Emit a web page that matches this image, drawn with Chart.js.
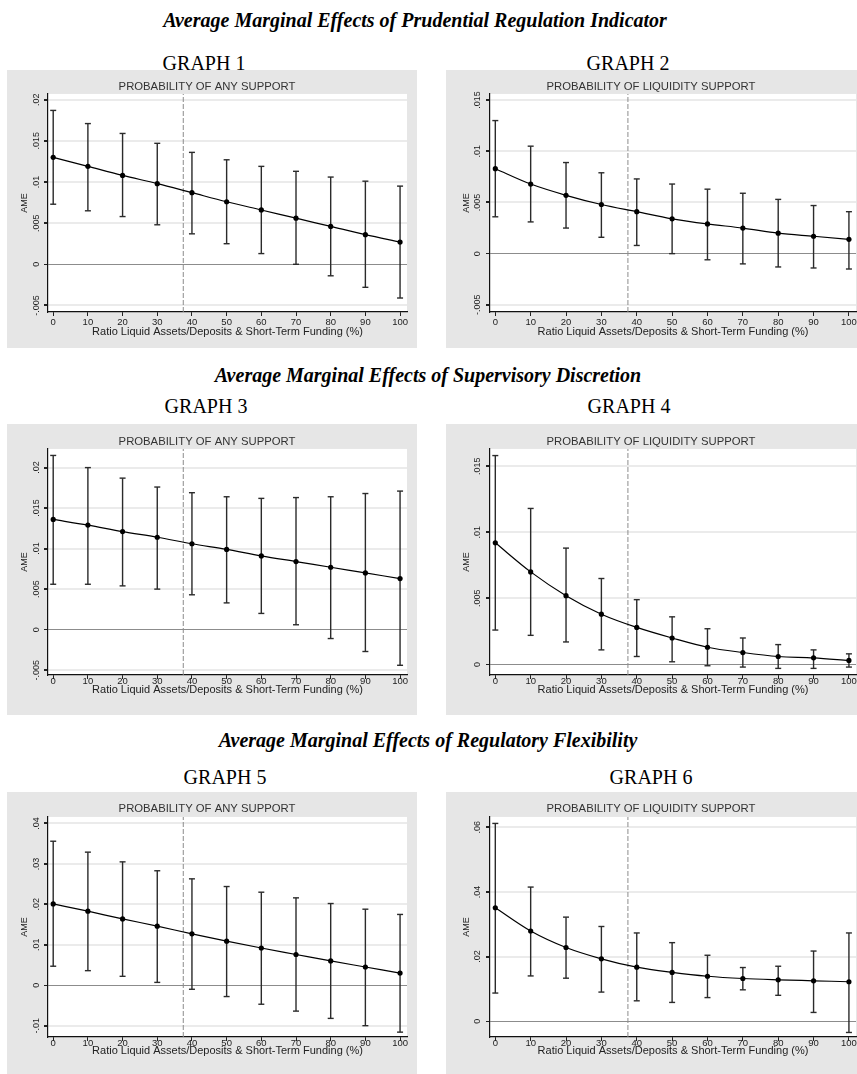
<!DOCTYPE html>
<html>
<head>
<meta charset="utf-8">
<script src="https://cdn.jsdelivr.net/npm/chart.js@4.4.1/dist/chart.umd.min.js"></script>
<style>
  body { margin: 0; width: 857px; height: 1074px; overflow: hidden; background: #fff; position: relative; }
  .h { position: absolute; font-family: "Liberation Serif", "Times New Roman", serif; white-space: nowrap;
       transform: translate(-50%, -50%); line-height: 1; color: #000; }
  .sec { font-weight: bold; font-style: italic; font-size: 20px; }
  .g { font-size: 20px; }
  canvas { position: absolute; }
</style>
</head>
<body>
<div class="h sec" style="left:415px;top:20px">Average Marginal Effects of Prudential Regulation Indicator</div>
<div class="h g" style="left:204px;top:63px">GRAPH 1</div>
<div class="h g" style="left:628px;top:63px">GRAPH 2</div>
<canvas id="c1" width="410" height="278" style="left:7px;top:70px"></canvas>
<canvas id="c2" width="420" height="278" style="left:446px;top:70px"></canvas>

<div class="h sec" style="left:428px;top:375px">Average Marginal Effects of Supervisory Discretion</div>
<div class="h g" style="left:206px;top:406px">GRAPH 3</div>
<div class="h g" style="left:629px;top:406px">GRAPH 4</div>
<canvas id="c3" width="410" height="291" style="left:7px;top:424px"></canvas>
<canvas id="c4" width="420" height="291" style="left:446px;top:424px"></canvas>

<div class="h sec" style="left:428px;top:740px">Average Marginal Effects of Regulatory Flexibility</div>
<div class="h g" style="left:225px;top:777px">GRAPH 5</div>
<div class="h g" style="left:651px;top:777px">GRAPH 6</div>
<canvas id="c5" width="410" height="282" style="left:7px;top:792px"></canvas>
<canvas id="c6" width="420" height="282" style="left:446px;top:792px"></canvas>

<script>
// liquidity ratio grid (x) and threshold marked by the dashed line
const xVals = [0, 10, 20, 30, 40, 50, 60, 70, 80, 90, 100];
const refX = 37.5;
const xTitle = 'Ratio Liquid Assets/Deposits & Short-Term Funding (%)';

// graph 1 - prudential regulation, any support
const ame1 = [0.0130, 0.0119, 0.0108, 0.0098, 0.0087, 0.0076, 0.0066, 0.0056, 0.0046, 0.0036, 0.0027];
const hi1 = [0.0187, 0.0171, 0.0159, 0.0147, 0.0136, 0.0127, 0.0119, 0.0113, 0.0106, 0.0101, 0.0095];
const lo1 = [0.0073, 0.0065, 0.0058, 0.0048, 0.0037, 0.0025, 0.0013, 0.0000, -0.0014, -0.0028, -0.0041];
const yTicks1 = [-0.005, 0, 0.005, 0.01, 0.015, 0.02];

// graph 2 - prudential regulation, liquidity support
const ame2 = [0.0083, 0.0068, 0.0057, 0.0048, 0.0041, 0.0034, 0.0029, 0.0025, 0.0020, 0.0017, 0.0014];
const hi2 = [0.0130, 0.0105, 0.0089, 0.0079, 0.0073, 0.0068, 0.0063, 0.0059, 0.0053, 0.0047, 0.0041];
const lo2 = [0.0036, 0.0031, 0.0025, 0.0016, 0.0008, 0.0000, -0.0006, -0.0010, -0.0013, -0.0014, -0.0015];
const yTicks2 = [-0.005, 0, 0.005, 0.01, 0.015];

// graph 3 - supervisory discretion, any support
const ame3 = [0.0136, 0.0129, 0.0121, 0.0114, 0.0106, 0.0099, 0.0091, 0.0084, 0.0077, 0.0070, 0.0063];
const hi3 = [0.0215, 0.0200, 0.0187, 0.0176, 0.0169, 0.0164, 0.0162, 0.0163, 0.0164, 0.0168, 0.0171];
const lo3 = [0.0056, 0.0056, 0.0054, 0.0050, 0.0043, 0.0033, 0.0020, 0.0006, -0.0011, -0.0027, -0.0044];
const yTicks3 = [-0.005, 0, 0.005, 0.01, 0.015, 0.02];

// graph 4 - supervisory discretion, liquidity support
const ame4 = [0.0092, 0.0070, 0.0052, 0.0038, 0.0028, 0.0020, 0.0013, 0.0009, 0.0006, 0.0005, 0.0003];
const hi4 = [0.0158, 0.0118, 0.0088, 0.0065, 0.0049, 0.0036, 0.0027, 0.0020, 0.0015, 0.0011, 0.0008];
const lo4 = [0.0026, 0.0022, 0.0017, 0.0011, 0.0006, 0.0002, -0.0001, -0.0002, -0.0003, -0.0003, -0.0002];
const yTicks4 = [0, 0.005, 0.01, 0.015];

// graph 5 - regulatory flexibility, any support
const ame5 = [0.0201, 0.0183, 0.0164, 0.0146, 0.0127, 0.0109, 0.0092, 0.0076, 0.0060, 0.0045, 0.0030];
const hi5 = [0.0356, 0.0329, 0.0305, 0.0283, 0.0263, 0.0244, 0.0230, 0.0216, 0.0202, 0.0188, 0.0175];
const lo5 = [0.0047, 0.0036, 0.0022, 0.0007, -0.0010, -0.0028, -0.0047, -0.0064, -0.0082, -0.0100, -0.0116];
const yTicks5 = [-0.01, 0, 0.01, 0.02, 0.03, 0.04];

// graph 6 - regulatory flexibility, liquidity support
const ame6 = [0.0351, 0.0279, 0.0228, 0.0193, 0.0167, 0.0151, 0.0139, 0.0132, 0.0128, 0.0125, 0.0122];
const hi6 = [0.0612, 0.0415, 0.0322, 0.0293, 0.0273, 0.0243, 0.0204, 0.0166, 0.0170, 0.0217, 0.0273];
const lo6 = [0.0087, 0.0140, 0.0133, 0.0090, 0.0063, 0.0058, 0.0073, 0.0097, 0.0080, 0.0027, -0.0035];
const yTicks6 = [0, 0.02, 0.04, 0.06];

const FONT = '"Liberation Sans", Arial, sans-serif';
const measure = document.createElement('canvas').getContext('2d');

// stata style labels: .005 instead of 0.005
function fmt(v) {
  const s = String(Math.round(v * 10000) / 10000);
  return s.replace(/^(-?)0\./, '$1.');
}

// grey graph region, white plot region
const paper = {
  id: 'paper',
  beforeDraw(chart) {
    const c = chart.ctx, a = chart.chartArea;
    c.save();
    c.fillStyle = '#e6e6e6';
    c.fillRect(0, 0, chart.width, chart.height);
    c.fillStyle = '#fff';
    c.fillRect(a.left, a.top, a.right - a.left, a.bottom - a.top);
    c.restore();
  }
};

const colL = { W: 410, L: 41, R: 400, ameC: 18, yLab: 11 };
const colR = { W: 420, L: 44, R: 410, ameC: 20.7, yLab: 12 };
const row1 = { H: 278, T: 24, B: 242, titleC: 17, xPad: 0.5, xTitleC: 262 };
const row2 = { H: 291, T: 25, B: 251, titleC: 18, xPad: -3.5, xTitleC: 266 };
const row3 = { H: 282, T: 25, B: 245, titleC: 17, xPad: -3.5, xTitleC: 259 };

function makePanel(id, title, ame, lo, hi, yTicks, yMin, yMax, col, row) {
  measure.font = '9px ' + FONT;
  const widest = Math.max(...yTicks.map(v => measure.measureText(fmt(v)).width));
  const whiskers = [];
  const caps = [];
  xVals.forEach((x, i) => {
    whiskers.push({ x: x, y: lo[i] }, { x: x, y: hi[i] }, { x: x, y: null });
    caps.push({ x: x, y: lo[i] }, { x: x, y: hi[i] });
  });

  return new Chart(document.getElementById(id).getContext('2d'), {
    type: 'line',
    data: {
      datasets: [
        {
          data: xVals.map((x, i) => ({ x: x, y: ame[i] })),
          borderColor: '#000', borderWidth: 1.2,
          pointRadius: 2.6, pointBackgroundColor: '#000', pointBorderWidth: 0,
          cubicInterpolationMode: 'monotone', order: 0
        },
        {
          data: caps, showLine: false, pointStyle: 'line', pointRadius: 3,
          pointBorderColor: '#2b2b2b', pointBorderWidth: 1.4, order: 1
        },
        {
          data: whiskers, borderColor: '#2b2b2b', borderWidth: 1.4,
          pointRadius: 0, spanGaps: false, order: 2
        },
        {
          data: [{ x: refX, y: yMin }, { x: refX, y: yMax }],
          borderColor: '#8c8c8c', borderWidth: 1, borderDash: [5, 2], pointRadius: 0, order: 3
        }
      ]
    },
    options: {
      responsive: false,
      animation: false,
      events: [],
      layout: { padding: { left: 0, right: col.W - col.R, top: 0, bottom: 0 } },
      plugins: {
        legend: { display: false },
        tooltip: { enabled: false },
        title: {
          display: true, text: title, color: '#333',
          font: { family: FONT, size: 11.3, weight: 'normal' },
          padding: { top: row.titleC - 6.8, bottom: row.T - row.titleC - 6.8 }
        }
      },
      scales: {
        x: {
          type: 'linear', min: -1.5, max: 102,
          afterBuildTicks: s => { s.ticks = xVals.map(v => ({ value: v })); },
          afterFit: s => { s.height = row.H - row.B; },
          grid: { drawOnChartArea: false, tickLength: 4, tickColor: '#222' },
          border: { color: '#111', width: 1.2 },
          ticks: { color: '#222', font: { family: FONT, size: 9.5 }, padding: row.xPad, maxRotation: 0, autoSkip: false },
          title: {
            display: true, text: xTitle, color: '#222',
            font: { family: FONT, size: 11 },
            padding: { top: 0, bottom: row.H - row.xTitleC - 6.6 }
          }
        },
        y: {
          type: 'linear', min: yMin, max: yMax,
          afterBuildTicks: s => { s.ticks = yTicks.map(v => ({ value: v })); },
          afterFit: s => { s.width = col.L; },
          grid: {
            color: c => (c.tick && c.tick.value === 0) ? '#8c8c8c' : '#ebebeb',
            lineWidth: c => (c.tick && c.tick.value === 0) ? 1 : 2,
            tickLength: 4, tickColor: '#222'
          },
          border: { color: '#111', width: 1.2 },
          ticks: {
            color: '#222', font: { family: FONT, size: 9 },
            minRotation: 90, maxRotation: 90, crossAlign: 'center',
            padding: col.yLab - 4 - widest / 2,
            callback: v => fmt(v)
          },
          title: {
            display: true, text: 'AME', color: '#222',
            font: { family: FONT, size: 9 },
            padding: { top: col.ameC - 5.4, bottom: 0 }
          }
        }
      }
    },
    plugins: [paper]
  });
}

const anyT = 'PROBABILITY OF ANY SUPPORT';
const liqT = 'PROBABILITY OF LIQUIDITY SUPPORT';
makePanel('c1', anyT, ame1, lo1, hi1, yTicks1, -0.0058, 0.0207, colL, row1);
makePanel('c2', liqT, ame2, lo2, hi2, yTicks2, -0.0057, 0.0156, colR, row1);
makePanel('c3', anyT, ame3, lo3, hi3, yTicks3, -0.0056, 0.0223, colL, row2);
makePanel('c4', liqT, ame4, lo4, hi4, yTicks4, -0.0008, 0.0163, colR, row2);
makePanel('c5', anyT, ame5, lo5, hi5, yTicks5, -0.0128, 0.0416, colL, row3);
makePanel('c6', liqT, ame6, lo6, hi6, yTicks6, -0.0049, 0.0632, colR, row3);
</script>
</body>
</html>
